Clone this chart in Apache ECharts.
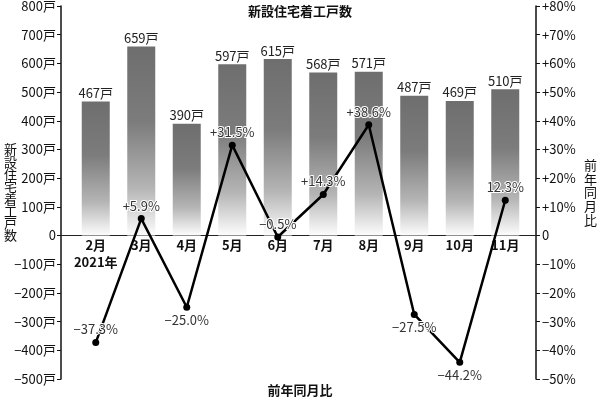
<!DOCTYPE html>
<html><head><meta charset="utf-8">
<script src="https://cdn.jsdelivr.net/npm/echarts@6/dist/echarts.min.js"></script>
<style>html,body{margin:0;padding:0;background:#fff}#c{width:600px;height:399px}</style>
</head><body><div id="c"></div>
<script>
const categories = ['2月','3月','4月','5月','6月','7月','8月','9月','10月','11月'];
const yearLabel = '2021年';
const starts = [467,659,390,597,615,568,571,487,469,510];
const yoy = [-37.3,5.9,-25.0,31.5,-0.5,14.3,38.6,-27.5,-44.2,12.3];
const yoyLabels = ['−37.3%','+5.9%','−25.0%','+31.5%','−0.5%','+14.3%','+38.6%','−27.5%','−44.2%','12.3%'];
const yoyLabelPos = ['top','top','bottom','top','top','top','top','bottom','bottom','top'];
const titleText = '新設住宅着工戸数';
const leftName = '新設住宅着工戸数';
const rightName = '前年同月比';
const bottomText = '前年同月比';

const FONT = '"Noto Sans CJK JP", "Noto Sans", sans-serif';
const chart = echarts.init(document.getElementById('c'), null, {renderer:'canvas'});
const vert = s => s.split('').join('\n');

chart.setOption({
  animation:false,
  textStyle:{fontFamily:FONT},
  title:[
    {text:titleText,left:'center',top:0,textStyle:{fontFamily:FONT,fontSize:13,fontWeight:'bold',color:'#111'}},
    {text:bottomText,left:'center',top:379,textStyle:{fontFamily:FONT,fontSize:13,fontWeight:'bold',color:'#111'}}
  ],
  grid:[
    {left:73,right:72,top:6,bottom:20,containLabel:false,outerBoundsMode:'none'},
    {left:61,right:64,top:6,bottom:20,containLabel:false,outerBoundsMode:'none'}
  ],
  xAxis:[
    {type:'category',gridIndex:0,data:categories,position:'top',offset:-229,
     axisLine:{show:false,onZero:false},axisTick:{show:false},
     axisLabel:{inside:true,interval:0,margin:2,fontSize:13,fontWeight:'bold',color:'#111',lineHeight:17,fontFamily:FONT,
       verticalAlign:'top',
       formatter:(v,i)=> i===0 ? v+'\n'+yearLabel : v}},
    {type:'category',gridIndex:1,data:categories,
     axisLine:{show:true,onZero:true,lineStyle:{color:'#222',width:1.2}},
     axisTick:{show:false},axisLabel:{show:false}}
  ],
  yAxis:[
    {type:'value',gridIndex:0,min:-500,max:800,interval:100,position:'left',offset:12,
     axisLine:{show:true,onZero:false,lineStyle:{color:'#111',width:1.5}},
     axisTick:{show:true,length:4,lineStyle:{color:'#111'}},
     splitLine:{show:false},
     axisLabel:{fontSize:13,color:'#111',margin:5,fontFamily:FONT,
       formatter:v=> v===0?'0':(v<0?'−'+Math.abs(v):v)+'戸'},
     name:vert(leftName),nameLocation:'middle',nameRotate:0,nameGap:44,nameMoveOverlap:false,
     nameTextStyle:{fontSize:13,color:'#111',lineHeight:12.3,padding:[44,0,0,0],fontFamily:FONT}},
    {type:'value',gridIndex:0,min:-50,max:80,interval:10,position:'right',offset:8,
     axisLine:{show:true,onZero:false,lineStyle:{color:'#111',width:1.5}},
     axisTick:{show:true,length:4,lineStyle:{color:'#111'}},
     splitLine:{show:false},
     axisLabel:{fontSize:13,color:'#111',margin:6,fontFamily:FONT,
       formatter:v=> v===0?'0':(v<0?'−'+Math.abs(v):'+'+v)+'%'},
     name:vert(rightName),nameLocation:'middle',nameRotate:0,nameGap:48,nameMoveOverlap:false,
     nameTextStyle:{fontSize:13,color:'#111',lineHeight:13.8,padding:[48,0,0,0],fontFamily:FONT}},
    {type:'value',gridIndex:1,min:-500,max:800,show:false}
  ],
  series:[
    {type:'bar',xAxisIndex:0,yAxisIndex:0,data:starts,barWidth:28,
     itemStyle:{color:new echarts.graphic.LinearGradient(0,0,0,1,[
       {offset:0,color:'#6e6e6e'},{offset:0.4,color:'#7c7c7c'},{offset:0.75,color:'#b5b5b5'},{offset:1,color:'#fdfdfd'}])},
     label:{show:true,position:'top',distance:2,fontSize:13,color:'#222',fontFamily:FONT,formatter:p=>p.value+'戸'}},
    {type:'line',xAxisIndex:0,yAxisIndex:1,
     data:yoy.map((v,i)=>({value:v,label:{position:yoyLabelPos[i],formatter:yoyLabels[i]}})),
     lineStyle:{color:'#000',width:2.5},itemStyle:{color:'#000'},
     symbol:'circle',symbolSize:7,z:5,
     label:{show:true,distance:3,fontSize:13,color:'#333',textBorderColor:'#fff',textBorderWidth:2,fontFamily:FONT}}
  ]
});
</script></body></html>
